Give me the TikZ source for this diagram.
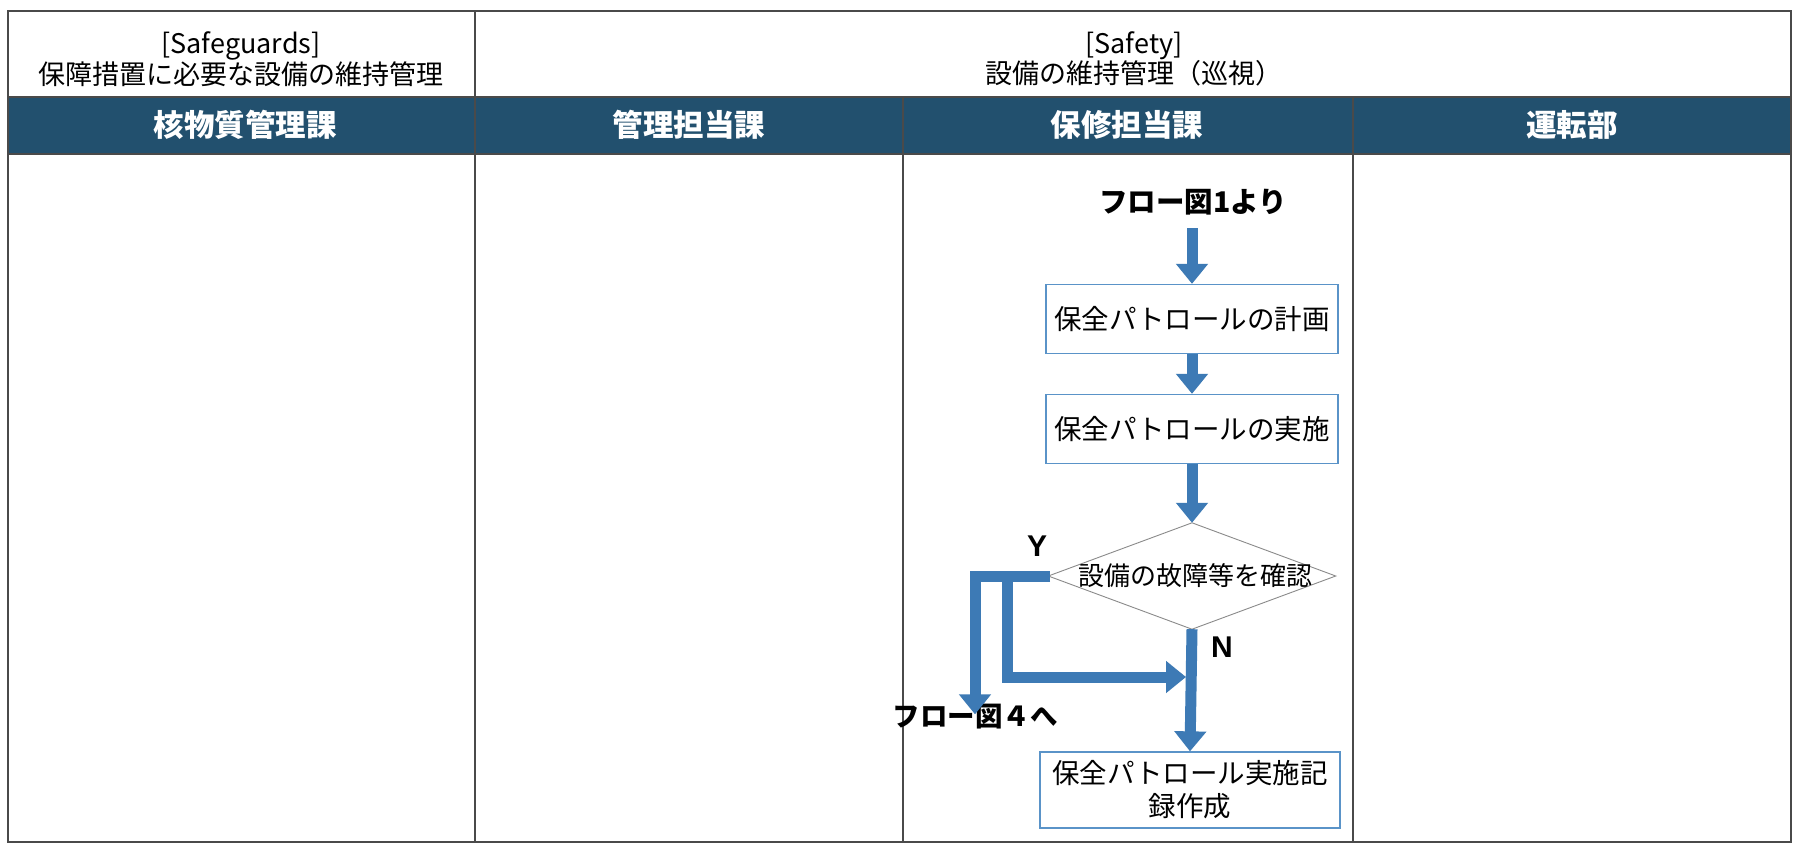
\documentclass[tikz,border=0pt]{standalone}
\usepackage{fontspec}
\setmainfont{Noto Sans CJK JP}
\newfontfamily\arial{Liberation Sans}
\usetikzlibrary{arrows.meta,shapes.geometric}
\definecolor{bandc}{HTML}{22506E}
\definecolor{gridc}{HTML}{4A4A4A}
\definecolor{flowc}{HTML}{3D7AB5}
\definecolor{boxc}{HTML}{5A93C8}
\definecolor{diac}{HTML}{8A8A8A}
\begin{document}
\begin{tikzpicture}[x=1pt,y=-1pt,
  gridline/.style={draw=gridc,line width=2pt},
  hdr/.style={align=center,font=\fontsize{27}{29}\selectfont,inner sep=0pt},
  bandlbl/.style={text=white,font=\fontsize{30.5}{32}\selectfont\bfseries,inner sep=0pt},
  stepbox/.style={draw=boxc,line width=1.3pt,fill=white,minimum width=292pt,minimum height=69pt,inner sep=0pt,align=center,font=\fontsize{27.5}{33}\selectfont},
  flow/.style={draw=flowc,line width=11pt,-{Triangle[width=31pt,length=20pt]}},
  termtxt/.style={font=\fontsize{28.5}{30}\selectfont\bfseries,inner sep=0pt},
  yn/.style={font=\arial\fontsize{30}{32}\selectfont\bfseries,inner sep=0pt}
]
\useasboundingbox (0,0) rectangle (1793,844);
\fill[white] (0,0) rectangle (1793,844);
% dark band
\fill[bandc] (8,97) rectangle (1791,154);
% grid
\draw[gridline] (8,11) rectangle (1791,842);
\draw[gridline] (8,97) -- (1791,97);
\draw[gridline] (8,154) -- (1791,154);
\draw[gridline] (475,11) -- (475,842);
\draw[gridline] (903,97) -- (903,842);
\draw[gridline] (1353,97) -- (1353,842);
% header texts
\node[hdr] (sg) at (241,59) {[Safeguards]\\保障措置に必要な設備の維持管理};
\node[hdr] (sf) at (1134,59) {[Safety]\\設備の維持管理（巡視）};
\node[bandlbl] (c1) at (245,125) {核物質管理課};
\node[bandlbl] (c2) at (689,125) {管理担当課};
\node[bandlbl] (c3) at (1127,125) {保修担当課};
\node[bandlbl] (c4) at (1572,125) {運転部};
% flow nodes
\node[termtxt] (from1) at (1193,202) {フロー図1より};
\coordinate (a1s) at (1192,228);
\node[stepbox] (b1) at (1192,319) {保全パトロールの計画};
\node[stepbox] (b2) at (1192,429) {保全パトロールの実施};
\node[minimum width=287pt,minimum height=106pt,inner sep=0pt] (dia) at (1192,576) {};
\draw[draw=diac,line width=0.9pt,fill=white] (dia.north) -- (dia.east) -- (dia.south) -- (dia.west) -- cycle;
\node[inner sep=0pt,font=\fontsize{26}{28}\selectfont] (diat) at (1195,576) {設備の故障等を確認};
\node[stepbox,minimum width=300pt,minimum height=76pt] (b3) at (1190,790) {保全パトロール実施記\\録作成};
\node[termtxt,font=\fontsize{27.5}{30}\selectfont\bfseries] (to4) at (975,717) {フロー図４へ};
\node[yn] (ylab) at (1037,546) {Y};
\node[yn] (nlab) at (1222,647) {N};
% connectors
\draw[flow] (a1s) -- (b1.north);
\draw[flow] (b1.south) -- (b2.north);
\draw[flow] (b2.south) -- (dia.north);
\draw[flow] (dia.south) -- (b3.north);
\coordinate (yl) at (1050,576);
\coordinate (ybr) at (1007,576);
\coordinate (merge) at (1186,677);
\draw[flow] (yl) -| ([yshift=-10pt]to4.north);
\draw[flow] (ybr) |- (merge);
\end{tikzpicture}
\end{document}
